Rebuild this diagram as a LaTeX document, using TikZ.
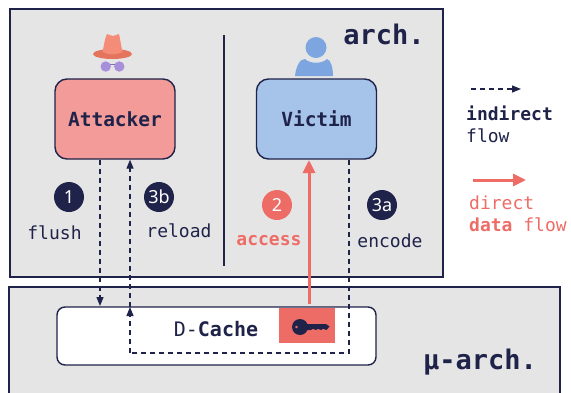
\documentclass[tikz,border=0pt]{standalone}
\usepackage{fontspec}
\setmonofont{DejaVu Sans Mono}
\setsansfont{Noto Sans}
\usetikzlibrary{arrows.meta}
\usetikzlibrary{positioning}
\definecolor{navy}{HTML}{1F2349}
\definecolor{panelgray}{HTML}{E5E5E5}
\definecolor{flowred}{HTML}{EE6C66}
\definecolor{softred}{HTML}{F29B98}
\definecolor{softblue}{HTML}{A6C3EA}
\definecolor{iconblue}{HTML}{7DA6E0}
\definecolor{hatred}{HTML}{F48C78}
\definecolor{brimred}{HTML}{E5745F}
\definecolor{lens}{HTML}{A88FDB}
\tikzset{
  panel/.style={draw=navy,fill=panelgray,line width=1.4pt},
  actor/.style={draw=navy,line width=1.4pt,rounded corners=12pt,minimum width=120pt,minimum height=80pt,
    text=navy,font=\fontsize{19.5}{20}\ttfamily\bfseries},
  badge/.style={circle,fill=navy,minimum size=30pt,inner sep=0pt,text=white,font=\fontsize{18}{18}\sffamily\bfseries},
  lbl/.style={inner sep=0pt,text=navy,font=\fontsize{18}{20}\ttfamily},
  leg/.style={lbl,anchor=west},
  indirect/.style={navy,line width=1.2pt,dash pattern=on 5pt off 4pt,-{Triangle[length=9pt,width=7pt]}},
  direct/.style={flowred,line width=3pt,-{Triangle[length=13pt,width=12pt]}},
}
\begin{document}
\begin{tikzpicture}[x=1pt,y=-1pt]
        \useasboundingbox (0,0) rectangle (571,392);
        \clip (0,0) rectangle (571,392);
        \draw[panel] (10,9) rectangle (443,277);
        \draw[panel] (9,287) rectangle (560,400);
        \draw[navy,line width=1.2pt] (224,35) -- (224,266);
        \node[actor,fill=softred] (attacker) at (115,119) {Attacker};
        \node[actor,fill=softblue] (victim) at (316.5,119) {Victim};
        \node[draw=navy,fill=white,line width=1.4pt,rounded corners=8pt,minimum width=319pt,minimum height=58pt] (cache) at (216.5,336) {};
        \node[fill=flowred,minimum width=56pt,minimum height=35pt,inner sep=0pt] (keybox) at (307,325.5) {};
        \node[lbl,font=\fontsize{20}{20}\ttfamily] (cachetext) at (216,329) {D-\textbf{Cache}};
        \node[lbl,font=\fontsize{27}{28}\ttfamily\bfseries] (archtext) at (384,34) {arch.};
        \node[lbl,font=\fontsize{27}{28}\ttfamily\bfseries] (uarchtext) at (480,362) {μ-arch.};
        \node[badge] (b_1) at (69,197) {1};
        \node[badge] (b_3b) at (159,197) {3b};
        \node[badge,fill=flowred,font=\fontsize{18}{18}\sffamily] (b_2) at (277,205) {2};
        \node[badge] (b_3a) at (382,205) {3a};
        \node[lbl] (flush) at (54.5,233) {flush};
        \node[lbl] (reload) at (179,231) {reload};
        \node[lbl,text=flowred,font=\fontsize{18}{20}\ttfamily\bfseries] (access) at (269,241) {access};
        \node[lbl] (encode) at (390,241) {encode};
        % cache side of the flows
        \coordinate (flushend) at (100,306);
        \coordinate (reloadend) at (130,307);
        \coordinate (corner_l) at (130,353);
        \coordinate (corner_r) at (349,353);
        \path[indirect]
        (flushend |- attacker.south) edge (flushend)
        (corner_l) edge (reloadend)
        (reloadend) edge (reloadend |- attacker.south);
        \draw[navy,line width=1.2pt,dash pattern=on 5pt off 4pt]
        (corner_r |- victim.south) -- (corner_r) -- (corner_l);
        \draw[direct] (309,304) -- (309,160);
        % legend
        \coordinate (dash_a) at (471,89);
        \coordinate (dash_b) at (521,89);
        \coordinate (red_a) at (473,180);
        \coordinate (red_b) at (526,180);
        \draw[indirect] (dash_a) -- (dash_b);
        \draw[direct] (red_a) -- (red_b);
        \node[leg,font=\fontsize{18}{20}\ttfamily\bfseries] (leg_1) at (466,113) {indirect};
        \node[leg] (leg_2) at (466,136) {flow};
        \node[leg,text=flowred] (leg_3) at (469,203) {direct};
        \node[leg,text=flowred] (leg_4) at (469,225) {\textbf{data} flow};
        % attacker icon
        \fill[brimred] (112.5,54) ellipse (19.5pt and 5pt);
        \fill[hatred] (102.5,52) .. controls (104,45) and (105,38) .. (107,34)
          .. controls (109,34) and (111,36) .. (113,36) .. controls (115,36) and (117,34) .. (119,34)
          .. controls (120,38) and (121,45) .. (122.5,52) .. controls (116,55) and (109,55) .. (102.5,52) -- cycle;
        \draw[lens!70!navy,line width=1pt] (106,64.5) -- (119,64.5);
        \fill[lens] (105.7,66.5) circle (5.2pt) (119.3,66.5) circle (5.2pt);
        % victim icon
        \fill[iconblue] (316,47.5) circle (10.5pt);
        \fill[iconblue] (295,76) .. controls (296,66) and (300,59) .. (305,59)
          .. controls (310,64) and (322,64) .. (327,59) .. controls (331,60) and (333,68) .. (333,76) -- cycle;
        % key
        \fill[navy,even odd rule] (300,327) circle (8pt) (296.5,327) circle (1.7pt);
        \fill[navy] (305,324) -- (326,324) -- (329.5,326.5) -- (326.5,330) -- (323,328.8) -- (321,330) -- (318,328.8) -- (316,330) -- (313,328.8) -- (311,330) -- (305,330) -- cycle;
    \end{tikzpicture}
\end{document}
